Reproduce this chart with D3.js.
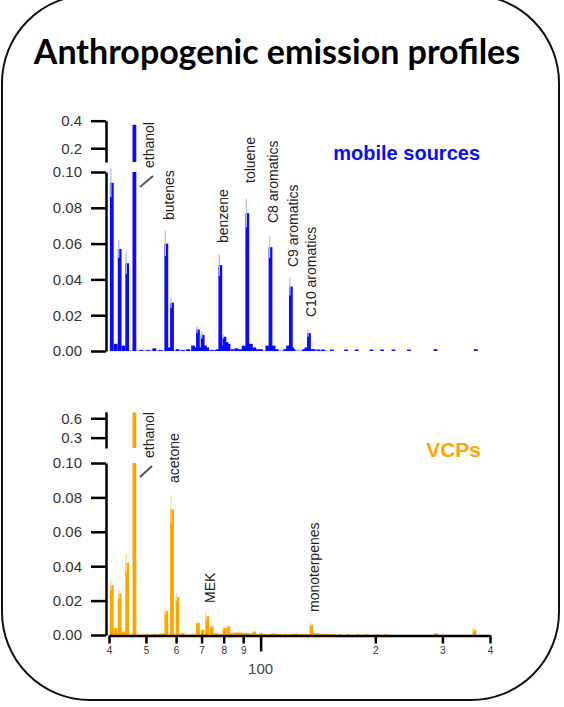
<!DOCTYPE html>
<html>
<head>
<meta charset="utf-8">
<script src="https://cdn.jsdelivr.net/npm/d3@7"></script>
<style>
body { margin: 0; background: #fff; }
text { font-family: "Liberation Sans", Arial, sans-serif; }
</style>
</head>
<body>
<svg width="564" height="707"></svg>
<script>
// ---- data ----
const mzMobile  = [41, 42, 43, 44, 45, 47, 49, 51, 53, 55, 57, 58, 59, 61, 63, 65, 67, 68, 69, 70, 71, 72, 73, 75, 77, 78, 79, 80, 81, 82, 83, 85, 87, 89, 91, 92, 93, 94, 95, 97, 99, 101, 105, 106, 107, 108, 109, 111, 117, 119, 120, 121, 122, 123, 131, 133, 134, 135, 137, 139, 143, 147, 155, 169, 180, 197, 210, 225, 247, 290, 370]
const valMobile = [0.094, 0.004, 0.057, 0.003, 0.049, 0.37, 0.0005, 0.0005, 0.0015, 0.0005, 0.060, 0.002, 0.027, 0.001, 0.0005, 0.001, 0.003, 0.002, 0.012, 0.002, 0.009, 0.003, 0.002, 0.0005, 0.0005, 0.001, 0.048, 0.003, 0.008, 0.005, 0.004, 0.001, 0.0015, 0.001, 0.003, 0.002, 0.077, 0.003, 0.004, 0.002, 0.001, 0.001, 0.003, 0.001, 0.058, 0.002, 0.003, 0.001, 0.001, 0.003, 0.001, 0.036, 0.002, 0.001, 0.001, 0.002, 0.001, 0.010, 0.001, 0.001, 0.0008, 0.0008, 0.0008, 0.0008, 0.0008, 0.0008, 0.0008, 0.0008, 0.0008, 0.001, 0.001]
const errMobile = [0.008, 0, 0.005, 0, 0.006, 0, 0, 0, 0, 0, 0.007, 0, 0.003, 0, 0, 0, 0, 0, 0.002, 0, 0.002, 0, 0, 0, 0, 0, 0.006, 0, 0.001, 0, 0, 0, 0, 0, 0, 0, 0.008, 0, 0, 0, 0, 0, 0, 0, 0.006, 0, 0, 0, 0, 0, 0, 0.005, 0, 0, 0, 0, 0, 0.002, 0, 0, 0, 0, 0, 0, 0, 0, 0, 0, 0, 0, 0]

const mzVCP  = [41, 42, 43, 44, 45, 47, 53, 55, 56, 57, 59, 61, 63, 69, 71, 73, 75, 77, 79, 81, 83, 85, 87, 89, 91, 93, 95, 97, 99, 101, 103, 107, 109, 111, 113, 117, 121, 123, 125, 129, 133, 137, 139, 141, 143, 145, 149, 153, 157, 163, 171, 181, 191, 203, 215, 291, 367]
const valVCP = [0.029, 0.004, 0.024, 0.002, 0.042, 0.69, 0.0005, 0.0005, 0.001, 0.014, 0.073, 0.022, 0.001, 0.007, 0.003, 0.011, 0.005, 0.001, 0.0005, 0.004, 0.005, 0.001, 0.0015, 0.0015, 0.001, 0.0012, 0.0008, 0.002, 0.0005, 0.001, 0.0005, 0.0005, 0.001, 0.0005, 0.0005, 0.0005, 0.0005, 0.0005, 0.0008, 0.0005, 0.0005, 0.006, 0.001, 0.001, 0.0008, 0.0005, 0.0005, 0.0005, 0.0005, 0.0005, 0.0005, 0.0005, 0.0005, 0.0005, 0.0005, 0.001, 0.003]
const errVCP = [0.003, 0, 0.003, 0, 0.005, 0, 0, 0, 0, 0.002, 0.008, 0.002, 0, 0.001, 0, 0.002, 0.001, 0, 0, 0.001, 0.001, 0, 0, 0, 0, 0, 0, 0, 0, 0, 0, 0, 0, 0, 0, 0, 0, 0, 0, 0, 0, 0.001, 0, 0, 0, 0, 0, 0, 0, 0, 0, 0, 0, 0, 0, 0, 0.001]

const xTicks = [40, 50, 60, 70, 80, 90, 100, 200, 300, 400]
const yTicksLow = [0, 0.02, 0.04, 0.06, 0.08, 0.10]
const yTicksHighMobile = [0.2, 0.4]
const yTicksHighVCP = [0.3, 0.6]

const labelsMobile = ['ethanol', 'butenes', 'benzene', 'toluene', 'C8 aromatics', 'C9 aromatics', 'C10 aromatics']
const labelMzMobile = [47, 57, 79, 93, 107, 121, 135]
const labelsVCP = ['ethanol', 'acetone', 'MEK', 'monoterpenes']
const labelMzVCP = [47, 59, 73, 137]

// ---- layout ----
const svg = d3.select('svg')

svg.append('rect')
	.attr('x', 2).attr('y', -5)
	.attr('width', 557).attr('height', 705)
	.attr('rx', 88).attr('ry', 88)
	.attr('fill', 'white')
	.attr('stroke', '#111').attr('stroke-width', 2)

svg.append('text')
	.attr('x', 277).attr('y', 64)
	.attr('text-anchor', 'middle')
	.style('font-family', 'Lato, "Open Sans", sans-serif')
	.style('font-weight', 'bold')
	.style('font-size', '34px')
	.text('Anthropogenic emission profiles')

let x = d3.scaleLog().domain([40, 400]).range([109, 490])

let panels = [
	{
		mz: mzMobile, val: valMobile, err: errMobile,
		color: '#0a0aff', light: '#b4bcff',
		low: d3.scaleLinear().domain([0, 0.1]).range([351, 172]),
		high: d3.scaleLinear().domain([0.1, 0.4]).range([162, 120.7]),
		highTicks: yTicksHighMobile, highFmt: d3.format('.1f'),
		name: 'mobile sources', nameX: 480, nameY: 160, nameSize: 20,
		labels: labelsMobile, labelMz: labelMzMobile,
		labelBottom: [168, 220, 243, 183, 223, 267, 317],
		arrow: [[140, 187], [153, 176]],
		xAxis: false
	},
	{
		mz: mzVCP, val: valVCP, err: errVCP,
		color: '#ffa500', light: '#ffd99a',
		low: d3.scaleLinear().domain([0, 0.1]).range([635, 463]),
		high: d3.scaleLinear().domain([0.14, 0.7]).range([448, 411.8]),
		highTicks: yTicksHighVCP, highFmt: d3.format('.1f'),
		name: 'VCPs', nameX: 481, nameY: 457, nameSize: 21,
		labels: labelsVCP, labelMz: labelMzVCP,
		labelBottom: [458, 483, 603, 612],
		arrow: [[140, 477], [152, 466]],
		xAxis: true
	}
]

const axisX = 106

panels.forEach(function(p) {
	let g = svg.append('g')
	let y0 = p.low(0)
	let lowTop = p.low.domain()[1]

	// faint baseline
	g.append('line')
		.attr('x1', x(p.mz[0]) - 3).attr('x2', x(150))
		.attr('y1', y0 - 0.5).attr('y2', y0 - 0.5)
		.attr('stroke', p.light).attr('stroke-width', 1.5)

	// bars, lower segment (+ upper segment when broken)
	let bars = g.append('g')
	p.mz.forEach(function(m, i) {
		let v = p.val[i], e = p.err[i]
		let bx = x(m) - 3.2
		let vLow = Math.min(v, lowTop)
		bars.append('rect')
			.attr('x', bx).attr('width', 3.8)
			.attr('y', p.low(vLow)).attr('height', y0 - p.low(vLow))
			.attr('fill', p.color)
		if (v > lowTop) {
			let hTop = p.high(v)
			bars.append('rect')
				.attr('x', bx).attr('width', 3.8)
				.attr('y', hTop).attr('height', p.high.range()[0] - hTop)
				.attr('fill', p.color)
		}
		if (e > 0) {
			bars.append('rect')
				.attr('x', bx + 0.3).attr('width', 1.3)
				.attr('y', p.low(v + e)).attr('height', p.low(v - e) - p.low(v + e))
				.attr('fill', p.light)
		}
	})

	// y axis, two segments
	let axLow = g.append('g')
		.attr('transform', `translate(${axisX},0)`)
		.call(d3.axisLeft(p.low).tickValues(yTicksLow).tickFormat(d3.format('.2f')).tickSize(15).tickSizeOuter(0).tickPadding(9))
	let axHigh = g.append('g')
		.attr('transform', `translate(${axisX},0)`)
		.call(d3.axisLeft(p.high).tickValues(p.highTicks).tickFormat(p.highFmt).tickSize(15).tickSizeOuter(0).tickPadding(9))
	;[axLow, axHigh].forEach(function(a) {
		a.select('.domain').attr('stroke', '#000').attr('stroke-width', 2.5)
		a.selectAll('.tick line').attr('stroke', '#000').attr('stroke-width', 2.5)
		a.selectAll('.tick text')
			.style('font-size', '15px').attr('fill', '#333')
			.style('font-family', '"Liberation Sans", Arial, sans-serif')
	})

	// series name
	g.append('text')
		.attr('x', p.nameX).attr('y', p.nameY)
		.attr('text-anchor', 'end')
		.style('font-weight', 'bold')
		.style('font-size', p.nameSize + 'px')
		.attr('fill', p.color)
		.text(p.name)

	// rotated peak labels
	p.labels.forEach(function(t, i) {
		let lx = x(p.labelMz[i]) + (i == 0 ? 18 : 6)
		g.append('text')
			.attr('transform', `translate(${lx},${p.labelBottom[i]}) rotate(-90)`)
			.style('font-size', '14px')
			.attr('fill', '#222')
			.text(t)
	})

	// arrow to ethanol
	g.append('line')
		.attr('x1', p.arrow[0][0]).attr('y1', p.arrow[0][1])
		.attr('x2', p.arrow[1][0]).attr('y2', p.arrow[1][1])
		.attr('stroke', '#555').attr('stroke-width', 2)

	if (p.xAxis) {
		let labelFmt = d => d == 100 ? '' : String(d).charAt(0)
		let ax = g.append('g')
			.attr('transform', `translate(0,${y0 + 0.5})`)
			.call(d3.axisBottom(x).tickValues(xTicks).tickFormat(labelFmt).tickSize(8).tickSizeOuter(0).tickPadding(3))
		ax.select('.domain').attr('stroke', '#000').attr('stroke-width', 2.5)
		ax.selectAll('.tick line').attr('stroke', '#000').attr('stroke-width', 2.5)
			.attr('y2', d => d == 100 ? 16 : 8)
		ax.selectAll('.tick text')
			.style('font-size', '10px').attr('fill', '#333')
			.style('font-family', '"Liberation Sans", Arial, sans-serif')
		ax.append('text')
			.attr('x', x(100)).attr('y', 38)
			.attr('text-anchor', 'middle')
			.style('font-size', '15px').attr('fill', '#444')
			.style('font-family', '"Liberation Sans", Arial, sans-serif')
			.text('100')
	}
})
</script>
</body>
</html>
